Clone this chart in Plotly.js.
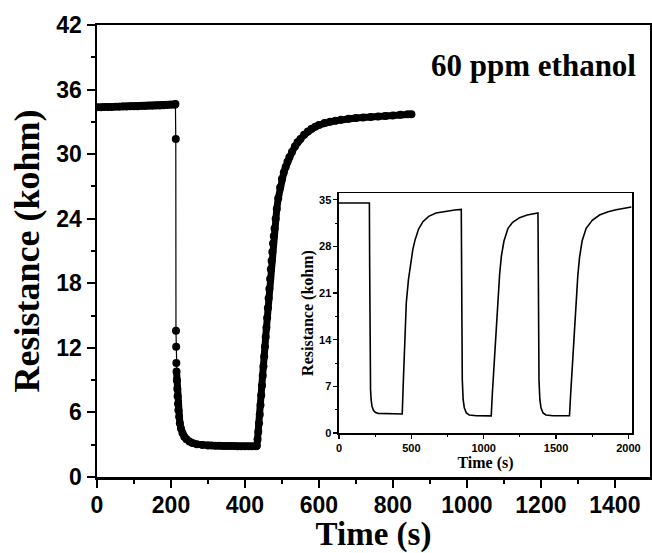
<!DOCTYPE html>
<html>
<head>
<meta charset="utf-8">
<script src="https://cdn.plot.ly/plotly-3.0.1.min.js"></script>
<style>html,body{margin:0;padding:0;background:#fff;}#chart{width:652px;height:553px;}</style>
</head>
<body>
<div id="chart"></div>
<script>
// Main response curve (60 ppm ethanol)
const time_s = [0,10,20,30,40,50,60,70,80,90,100,110,120,130,140,150,160,170,180,190,200,210,212,
  213,213.5,214,214.5,215,
  216,217,218,219,220,222,224,227,231,236,242,250,258,270,285,
  300,310,320,330,340,350,360,370,380,390,400,410,420,430,
  432,434,436,438,440,442,444,446,448,450,452,454,456,458,460,462,464,466,468,470,472,474,476,478,480,483,486,490,495,
  500,505,510,515,520,527,535,542,550,560,570,580,590,600,615,630,645,660,680,700,720,740,760,780,800,820,840,850];
const resistance = [34.35,34.36,34.37,34.38,34.38,34.4,34.4,34.42,34.42,34.44,34.45,34.46,34.47,34.48,34.5,34.5,34.52,34.53,34.55,34.56,34.58,34.6,34.65,
  31.4,13.6,12.1,10.6,9.8,
  9.0,8.2,7.5,6.8,6.2,5.6,5.0,4.5,4.1,3.75,3.5,3.3,3.15,3.05,2.97,
  2.93,2.92,2.9,2.9,2.88,2.88,2.87,2.87,2.86,2.86,2.85,2.85,2.85,2.86,
  2.9,3.5,4.2,5.0,5.8,6.7,7.6,8.5,9.4,10.3,11.2,12.1,13.0,13.9,14.8,15.7,16.6,17.5,18.4,19.3,20.1,20.9,21.7,22.4,23.1,24.0,24.9,25.9,26.9,
  27.7,28.3,28.8,29.3,29.7,30.2,30.7,31.1,31.4,31.8,32.1,32.35,32.55,32.7,32.9,33.0,33.1,33.2,33.3,33.35,33.4,33.45,33.5,33.55,33.6,33.65,33.7,33.7];
// indices of the isolated points of the sudden drop (drawn with thin connector only)
const sparse_drop = [23,24,25,26];

// Inset: three cycles
const inset_time = [0,100,210,212,215,218,222,228,238,250,270,330,400,437,
  445,455,465,480,495,510,525,550,580,620,670,740,800,845,
  848,852,858,866,880,900,950,1000,1052,
  1060,1076,1088,1099,1110,1122,1140,1168,1200,1248,1300,1375,
  1378,1382,1388,1396,1410,1430,1480,1540,1593,
  1600,1616,1628,1639,1650,1662,1680,1708,1750,1800,1860,1915,1970,2020];
const inset_res = [34.5,34.5,34.5,25,12,6.5,5.0,4.0,3.4,3.1,2.95,2.88,2.85,2.85,
  8,15,19.5,23,25.5,27.5,28.9,30.6,31.7,32.5,33.0,33.3,33.45,33.55,
  20,8,5.0,3.8,3.0,2.7,2.6,2.58,2.58,
  6,11.8,16.5,20.3,23.8,26.5,28.8,30.7,31.6,32.3,32.7,33.0,
  20,8,5.0,3.8,3.0,2.7,2.6,2.58,2.58,
  5.5,11.8,16.5,20.3,23.5,26.3,28.8,30.7,31.9,32.7,33.2,33.5,33.7,33.9];

const main_xticks = [0,200,400,600,800,1000,1200,1400];
const main_yticks = [0,6,12,18,24,30,36,42];
const inset_xticks = [0,500,1000,1500,2000];
const inset_yticks = [0,7,14,21,28,35];

const thickY = resistance.map((v,i)=> sparse_drop.includes(i) ? null : v);

const SANS = 'Liberation Sans, Arial, sans-serif';
const SERIF = 'Liberation Serif, Times New Roman, serif';

const traces = [
  {x: time_s, y: thickY, mode:'lines', line:{color:'#000', width:7}, connectgaps:false, xaxis:'x', yaxis:'y', hoverinfo:'skip'},
  {x: time_s, y: resistance, mode:'lines+markers', line:{color:'#000', width:1.2}, marker:{color:'#000', size:8}, xaxis:'x', yaxis:'y'},
  {x: inset_time, y: inset_res, mode:'lines', line:{color:'#000', width:1.6}, xaxis:'x2', yaxis:'y2'}
];

const layout = {
  width:652, height:553,
  margin:{l:97, r:2, t:25, b:76},
  paper_bgcolor:'#fff', plot_bgcolor:'#fff',
  showlegend:false,
  xaxis:{
    range:[0,1495], tickvals: main_xticks, ticktext: main_xticks.map(String),
    ticks:'outside', ticklen:8, tickwidth:2, tickcolor:'#000',
    showline:true, linewidth:2.5, linecolor:'#000', mirror:true,
    showgrid:false, zeroline:false, ticklabelstandoff:-2,
    minor:{dtick:100, tick0:0, ticks:'outside', ticklen:4, tickwidth:2, tickcolor:'#000', showgrid:false},
    tickfont:{family:SANS, size:23, color:'#000', weight:'bold'},
    title:{text:'Time (s)', font:{family:SERIF, size:33, color:'#000', weight:'bold'}, standoff:8},
    domain:[0,1], anchor:'y', automargin:false
  },
  yaxis:{
    range:[0,42], tickvals: main_yticks, ticktext: main_yticks.map(String),
    ticks:'outside', ticklen:8, tickwidth:2, tickcolor:'#000',
    showline:true, linewidth:2.5, linecolor:'#000', mirror:true,
    showgrid:false, zeroline:false,
    minor:{dtick:3, tick0:0, ticks:'outside', ticklen:4, tickwidth:2, tickcolor:'#000', showgrid:false},
    tickfont:{family:SANS, size:23, color:'#000', weight:'bold'},
    title:{text:'Resistance (kohm)', font:{family:SERIF, size:36, color:'#000', weight:'bold'}, standoff:6},
    domain:[0,1], anchor:'x', automargin:false
  },
  xaxis2:{
    range:[0,2025], tickvals: inset_xticks, ticktext: inset_xticks.map(String),
    ticks:'outside', ticklen:4, tickwidth:1.2, tickcolor:'#000',
    showline:true, linewidth:1.5, linecolor:'#000', mirror:true,
    showgrid:false, zeroline:false,
    minor:{dtick:250, tick0:0, ticks:'outside', ticklen:2.5, tickwidth:1, tickcolor:'#000', showgrid:false},
    tickfont:{family:SANS, size:11, color:'#000', weight:'bold'},
    title:{text:'Time (s)', font:{family:SERIF, size:16, color:'#000', weight:'bold'}, standoff:0},
    domain:[0.4376,0.9675], anchor:'y2', automargin:false
  },
  yaxis2:{
    range:[0,36], tickvals: inset_yticks, ticktext: inset_yticks.map(String),
    ticks:'outside', ticklen:4, tickwidth:1.2, tickcolor:'#000',
    showline:true, linewidth:1.5, linecolor:'#000', mirror:true,
    showgrid:false, zeroline:false,
    minor:{dtick:3.5, tick0:0, ticks:'outside', ticklen:2.5, tickwidth:1, tickcolor:'#000', showgrid:false},
    tickfont:{family:SANS, size:11, color:'#000', weight:'bold'},
    title:{text:'Resistance (kohm)', font:{family:SERIF, size:16, color:'#000', weight:'bold'}, standoff:1},
    domain:[0.0973,0.6283], anchor:'x2', automargin:false
  },
  annotations:[
    {text:'60 ppm ethanol', xref:'paper', yref:'paper', x:0.978, y:0.9115, xanchor:'right', yanchor:'middle',
     showarrow:false, font:{family:SERIF, size:31, color:'#000', weight:'bold'}}
  ]
};

Plotly.newPlot('chart', traces, layout, {staticPlot:true, displayModeBar:false});
</script>
</body>
</html>
